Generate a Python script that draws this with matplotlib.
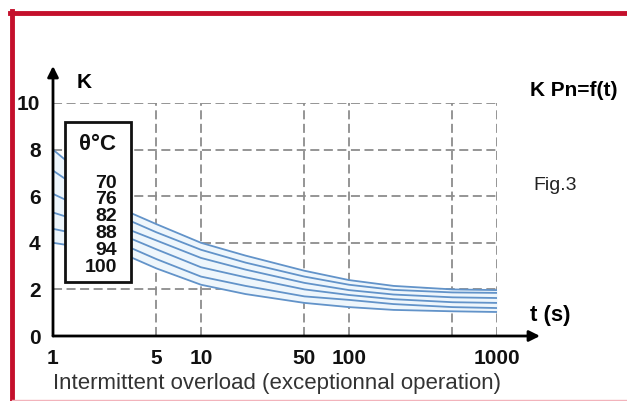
import numpy as np
import matplotlib
matplotlib.use("Agg")
from matplotlib import pyplot as plt
from matplotlib.patches import Rectangle
from matplotlib.lines import Line2D

plt.rcParams['font.family'] = ['Liberation Sans', 'DejaVu Sans']

W, H = 627, 401

# K against t (s), one curve per temperature
t = [1, 2, 3.3, 5, 10, 20, 50, 100, 200, 500, 1000]
temps = ["70", "76", "82", "88", "94", "100"]
k_70 = [8.0, 6.4, 5.3, 4.8, 4.0, 3.45, 2.8, 2.4, 2.15, 2.0, 1.97]
k_76 = [7.1, 5.8, 4.95, 4.45, 3.7, 3.15, 2.55, 2.2, 1.98, 1.87, 1.85]
k_82 = [6.1, 5.2, 4.55, 4.1, 3.35, 2.85, 2.28, 1.97, 1.78, 1.66, 1.63]
k_88 = [5.3, 4.7, 4.2, 3.72, 2.95, 2.52, 2.0, 1.76, 1.58, 1.45, 1.42]
k_94 = [4.6, 4.2, 3.8, 3.3, 2.55, 2.15, 1.7, 1.55, 1.37, 1.24, 1.2]
k_100 = [4.0, 3.7, 3.4, 2.9, 2.2, 1.8, 1.42, 1.24, 1.12, 1.06, 1.03]
curves = [k_70, k_76, k_82, k_88, k_94, k_100]

xticks = [1, 5, 10, 50, 100, 1000]
xgrid = [5, 10, 50, 100, 500, 1000]
yticks = [0, 2, 4, 6, 8, 10]


def px(x, y):
    return x / W, 1 - y / H


fig = plt.figure(figsize=(W / 100, H / 100), dpi=100)
fig.patch.set_facecolor("white")

ax = fig.add_axes([53 / W, 65 / H, 444 / W, 233 / H])
ax.set_xscale("log")
ax.set_xlim(1, 1000)
ax.set_ylim(0, 10)
for s in ax.spines.values():
    s.set_visible(False)

# dashed grid
for g in xgrid:
    ax.axvline(g, color="#8c8c8c", lw=1.3, dashes=(5, 2.5), zorder=1)
for g in yticks[1:]:
    ax.axhline(g, color="#8c8c8c", lw=1.3, dashes=(5, 2.5), zorder=1)

ax.fill_between(t, k_100, k_70, color="#eef6fc", zorder=2, lw=0)
for k in curves:
    ax.plot(t, k, color="#6293c9", lw=1.3, zorder=3, solid_capstyle="butt")

ax.set_xticks(xticks)
ax.set_xticklabels([str(v) for v in xticks])
ax.xaxis.set_minor_locator(matplotlib.ticker.NullLocator())
ax.set_yticks(yticks)
ax.set_yticklabels([str(v) for v in yticks])
ax.tick_params(length=0, labelsize=15, colors="#111111")
ax.tick_params(axis="x", pad=9)
ax.tick_params(axis="y", pad=9)
for lab in ax.get_xticklabels() + ax.get_yticklabels():
    lab.set_fontweight("bold")

# axes with arrows
ax.annotate("", xy=(0, (336 - 66) / 233), xytext=(0, 0), xycoords="axes fraction",
            arrowprops=dict(arrowstyle="-|>", color="black", lw=2, mutation_scale=16,
                            shrinkA=0, shrinkB=0), annotation_clip=False)
ax.annotate("", xy=((540 - 53) / 444, 0), xytext=(0, 0), xycoords="axes fraction",
            arrowprops=dict(arrowstyle="-|>", color="black", lw=2, mutation_scale=16,
                            shrinkA=0, shrinkB=0), annotation_clip=False)

# legend box
x0, y0 = px(65, 282)
fig.add_artist(Rectangle((x0, y0), 66 / W, 160 / H, transform=fig.transFigure,
                         facecolor="white", edgecolor="#111111", lw=2, zorder=5))
fig.text(*px(97, 144), "θ°C", ha="center", va="center", fontsize=16,
         fontweight="bold", color="#111111", zorder=6)
for i, lab in enumerate(temps):
    fig.text(*px(117, 183 + i * 16.8), lab, ha="right", va="center", fontsize=14,
             fontweight="bold", color="#111111", zorder=6)

# texts
fig.text(*px(77, 83), "K", ha="left", va="center", fontsize=15, fontweight="bold")
fig.text(*px(530, 90), "K Pn=f(t)", ha="left", va="center", fontsize=15, fontweight="bold")
fig.text(*px(533, 186), "Fig.3", ha="left", va="center", fontsize=14, color="#222222")
fig.text(*px(530, 315), "t (s)", ha="left", va="center", fontsize=16, fontweight="bold")
fig.text(*px(53, 383), "Intermittent overload (exceptionnal operation)", ha="left",
         va="center", fontsize=16, color="#333333")

# red frame
red = "#c4102c"
fig.add_artist(Line2D([10 / W, 1], [1 - 13 / H, 1 - 13 / H], color=red, lw=3.5,
                      transform=fig.transFigure))
fig.add_artist(Line2D([11.5 / W, 11.5 / W], [0, 1 - 11 / H], color=red, lw=3.5,
                      transform=fig.transFigure))
fig.add_artist(Line2D([12 / W, 1], [1.5 / H, 1.5 / H], color="#f2b3bb", lw=1,
                      transform=fig.transFigure))

fig.savefig("out.png", dpi=100)
